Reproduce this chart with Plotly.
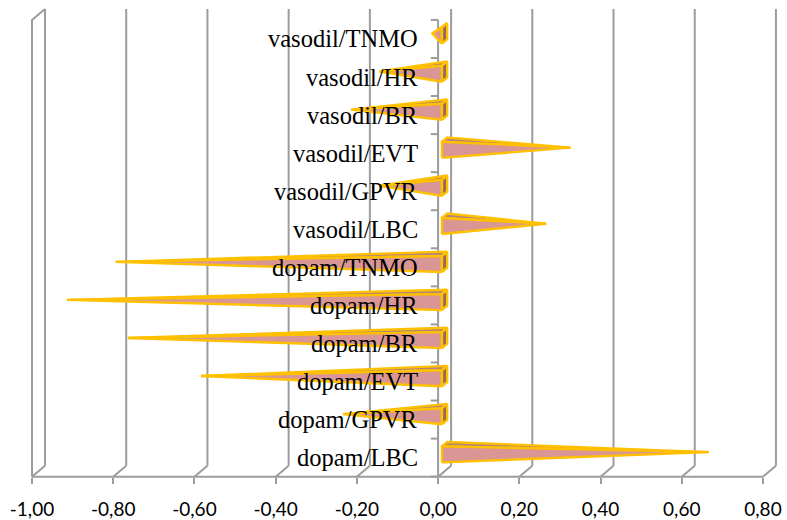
import plotly.graph_objects as go

# ---- data -------------------------------------------------------------
categories = [
    "dopam/LBC", "dopam/GPVR", "dopam/EVT", "dopam/BR", "dopam/HR", "dopam/TNMO",
    "vasodil/LBC", "vasodil/GPVR", "vasodil/EVT", "vasodil/BR", "vasodil/HR", "vasodil/TNMO",
]
values = [0.65, -0.25, -0.60, -0.78, -0.93, -0.81,
          0.25, -0.16, 0.31, -0.23, -0.16, -0.03]
tick_values = [-1.0, -0.8, -0.6, -0.4, -0.2, 0.0, 0.2, 0.4, 0.6, 0.8]
tick_labels = ["-1,00", "-0,80", "-0,60", "-0,40", "-0,20",
               "0,00", "0,20", "0,40", "0,60", "0,80"]

# ---- oblique 3D projection ---------------------------------------------
DX = 0.032      # depth shift along the value axis
DY = 0.288      # depth shift along the category axis
N = len(categories)
X_MIN, X_MAX = -1.0788, 0.8592
Y_MIN, Y_MAX = -1.086, 12.523

GRID = "#9c9c9c"
GOLD = "#FFC000"
FRONT = "#D99694"
TOP = "#B3837C"
END = "#936A5E"


def proj(x, y, z):
    return x + z * DX, y + z * DY


fig = go.Figure()


def line(xs, ys, color=GRID, width=2):
    fig.add_trace(go.Scatter(x=xs, y=ys, mode="lines",
                             line=dict(color=color, width=width),
                             hoverinfo="skip", showlegend=False))


def face(points, fill, outline=GOLD, width=2.4):
    xs = [p[0] for p in points] + [points[0][0]]
    ys = [p[1] for p in points] + [points[0][1]]
    fig.add_trace(go.Scatter(x=xs, y=ys, mode="lines", fill="toself",
                             fillcolor=fill,
                             line=dict(color=outline, width=width),
                             hoverinfo="skip", showlegend=False))


# back-wall gridlines and floor edges
vmin, vmax = tick_values[0], tick_values[-1]
for t in tick_values:
    bx, by = proj(t, 0, 1)
    tx, ty = proj(t, N, 1)
    line([bx, tx], [by, ty])
    line([t, bx], [0, by])
line([vmin, vmax], [0, 0])

# left side wall
lx, ly = proj(vmin, N, 1)
line([vmin, vmin, lx], [0, N, ly])

# category axis at zero with tick marks
line([0, 0], [0, N])
tick_len = 0.018
for k in range(N + 1):
    line([-tick_len, 0], [k, k])

# pyramids: square base on the zero plane, apex at the value
H = 0.21
Z0, Z1 = 0.3, 0.7
for i, v in enumerate(values):
    c = i + 0.5
    b_fl = proj(0, c - H, Z0)
    b_fh = proj(0, c + H, Z0)
    b_bh = proj(0, c + H, Z1)
    b_bl = proj(0, c - H, Z1)
    apex = proj(v, c, 0.5)
    face([b_fh, b_bh, apex], TOP)
    face([b_fl, b_fh, apex], FRONT)
    if v < 0:
        face([b_fl, b_fh, b_bh, b_bl], END)

# category labels
label_x = -0.044
annotations = []
for i, name in enumerate(categories):
    annotations.append(dict(
        x=label_x, y=i + 0.5, xref="x", yref="y", text=name,
        showarrow=False, xanchor="right", yanchor="middle",
        font=dict(family="Liberation Serif, Times New Roman, serif",
                  size=24.5, color="black"),
    ))

fig.update_layout(
    width=787, height=520,
    margin=dict(l=0, r=0, t=0, b=0),
    paper_bgcolor="white", plot_bgcolor="white",
    showlegend=False,
    annotations=annotations,
    xaxis=dict(
        range=[X_MIN, X_MAX], anchor="free", position=41.5 / 520,
        showgrid=False, zeroline=False, showline=False,
        tickmode="array", tickvals=tick_values, ticktext=tick_labels,
        ticks="outside", ticklen=6, tickwidth=2, tickcolor=GRID,
        ticklabelstandoff=10,
        tickfont=dict(family="Lato, sans-serif", size=19, color="black"),
        fixedrange=True,
    ),
    yaxis=dict(range=[Y_MIN, Y_MAX], visible=False, fixedrange=True),
)

fig.write_html("out.html")
